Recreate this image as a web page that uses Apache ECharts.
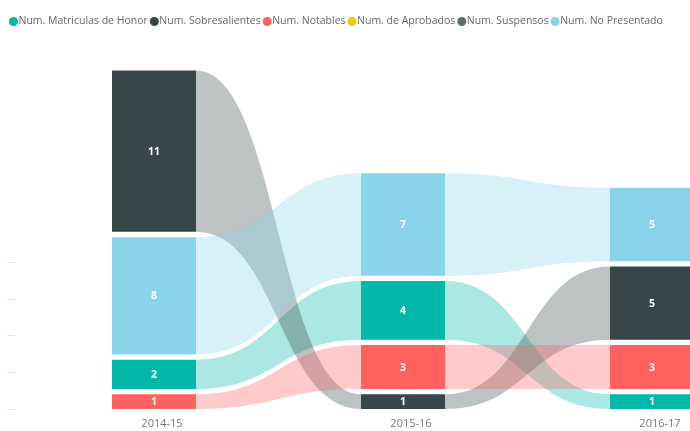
<!DOCTYPE html>
<html>
<head>
<meta charset="utf-8">
<style>html,body{margin:0;padding:0;background:#fff;}#chart{width:690px;height:431px;}</style>
<script src="https://cdn.jsdelivr.net/npm/echarts@6/dist/echarts.min.js"></script>
</head>
<body>
<div id="chart"></div>
<script>
const categories = ['2014-15', '2015-16', '2016-17'];
const seriesNames = ['Num. Matriculas de Honor', 'Num. Sobresalientes', 'Num. Notables', 'Num. de Aprobados', 'Num. Suspensos', 'Num. No Presentado'];
const seriesColors = ['#01B8AA', '#374649', '#FD625E', '#F2C80F', '#5F6B6D', '#8AD4EB'];
const matriculas = [2, 4, 1];
const sobresalientes = [11, 1, 5];
const notables = [1, 3, 3];
const aprobados = [0, 0, 0];
const suspensos = [0, 0, 0];
const noPresentado = [8, 7, 5];
const tickValues = [0, 2.5, 5, 7.5, 10];

const allValues = [matriculas, sobresalientes, notables, aprobados, suspensos, noPresentado];
const GAP = 5.3;
const BAR_L = 50 / 249, BAR_R = 34 / 249;
const FONT = '"Segoe UI", "Open Sans", sans-serif';

function stackLayout(c) {
  const items = allValues.map((arr, i) => ({ i: i, v: arr[c] })).filter(d => d.v > 0);
  items.sort((a, b) => (a.v - b.v) || (a.i - b.i));
  let cum = 0; const res = {};
  items.forEach((d, k) => { res[d.i] = { cum: cum, k: k, v: d.v }; cum += d.v; });
  return res;
}
const layouts = categories.map((_, c) => stackLayout(c));

function hexA(hex, a) {
  const n = parseInt(hex.slice(1), 16);
  return 'rgba(' + ((n >> 16) & 255) + ',' + ((n >> 8) & 255) + ',' + (n & 255) + ',' + a + ')';
}

function segment(api, c, si) {
  const L = layouts[c][si];
  if (!L) return null;
  const base = api.coord([c, 0]);
  const unit = api.size([0, 1])[1];
  const band = api.size([1, 0])[0];
  const yB = base[1] - L.cum * unit - L.k * GAP;
  const yT = yB - L.v * unit;
  return { cx: base[0], band: band, yT: yT, yB: yB, x0: base[0] - BAR_L * band, x1: base[0] + BAR_R * band };
}

function makeRender(si) {
  return function (params, api) {
    const c = api.value(0);
    const v = api.value(1);
    if (!(v > 0)) return null;
    const s = segment(api, c, si);
    const children = [];
    if (c + 1 < categories.length) {
      const n = segment(api, c + 1, si);
      if (n) {
        const xa = s.x1, xb = n.x0, xm = (xa + xb) / 2;
        const d = 'M' + xa + ' ' + s.yT +
          ' C' + xm + ' ' + s.yT + ' ' + xm + ' ' + n.yT + ' ' + xb + ' ' + n.yT +
          ' L' + xb + ' ' + n.yB +
          ' C' + xm + ' ' + n.yB + ' ' + xm + ' ' + s.yB + ' ' + xa + ' ' + s.yB + ' Z';
        children.push({ type: 'path', shape: { pathData: d }, style: { fill: hexA(seriesColors[si], 0.33) }, z2: 1 });
      }
    }
    children.push({ type: 'rect', shape: { x: s.x0, y: s.yT, width: s.x1 - s.x0, height: s.yB - s.yT }, style: { fill: seriesColors[si] }, z2: 5 });
    children.push({ type: 'text', x: (s.x0 + s.x1) / 2, y: (s.yT + s.yB) / 2 + 0.5, style: { text: String(v), fill: '#fff', font: 'bold 10.5px ' + FONT, align: 'center', verticalAlign: 'middle' }, z2: 10 });
    return { type: 'group', children: children };
  };
}

const chart = echarts.init(document.getElementById('chart'), null, { renderer: 'canvas' });
chart.setOption({
  animation: false,
  legend: {
    left: 4, top: 11, itemWidth: 9, itemHeight: 9, itemGap: 2, icon: 'circle',
    width: 700,
    textStyle: { color: '#666', fontSize: 10.5, fontFamily: FONT, padding: [0, 0, 0, -4.5] },
    data: seriesNames
  },
  grid: { left: 37.5, top: 42.5, width: 747, height: 366.5, outerBoundsMode: 'none', containLabel: false },
  xAxis: {
    type: 'category', data: categories,
    axisLine: { show: false }, axisTick: { show: false },
    axisLabel: { color: '#777', fontSize: 11, fontFamily: FONT, margin: 9 }
  },
  yAxis: {
    type: 'value', min: 0, max: 25, interval: 2.5, offset: 22.5,
    splitLine: { show: false }, axisLine: { show: false },
    axisLabel: { show: false },
    axisTick: { show: true, length: 8, customValues: tickValues, lineStyle: { color: '#e2e2e2' } }
  },
  series: seriesNames.map((name, si) => ({
    type: 'custom', name: name,
    itemStyle: { color: seriesColors[si] },
    renderItem: makeRender(si),
    encode: { x: 0, y: 1 },
    data: categories.map((_, c) => [c, allValues[si][c]])
  }))
});
</script>
</body>
</html>
